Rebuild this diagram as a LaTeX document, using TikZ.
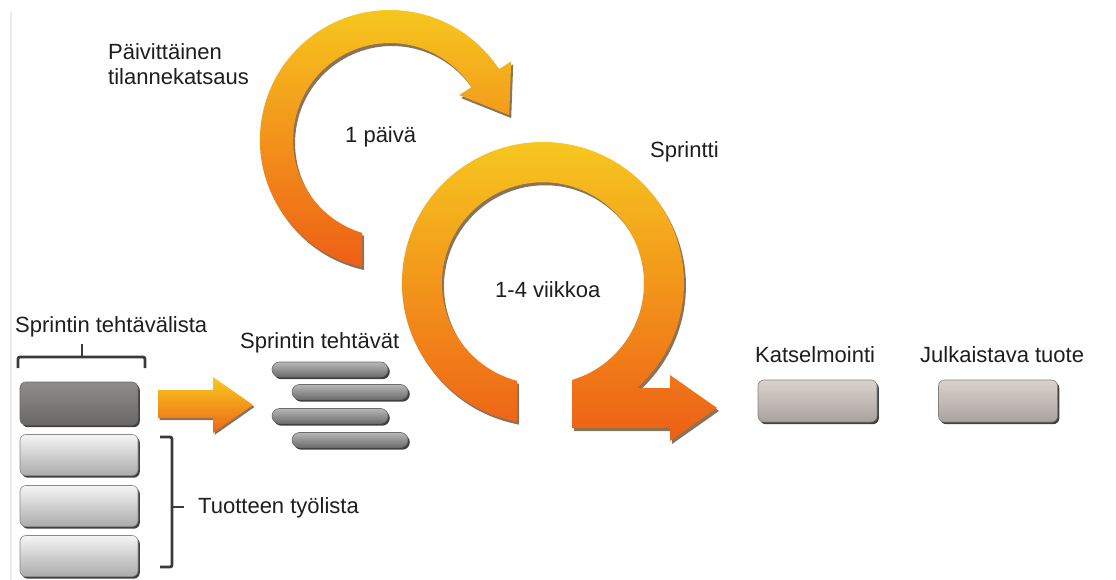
\documentclass[tikz,border=0pt]{standalone}
\usepackage{fontspec}
\setmainfont{Liberation Sans}
\usetikzlibrary{shadows}
\definecolor{txt}{HTML}{1E1E1E}
\definecolor{brk}{HTML}{3A3A3A}
\definecolor{ylw}{HTML}{F7CB1F}
\definecolor{org}{HTML}{F39B1E}
\definecolor{red}{HTML}{EE5F16}
\definecolor{shd}{HTML}{4A2800}
\definecolor{darktop}{HTML}{8F8D8B}
\definecolor{darkbot}{HTML}{6A6866}
\definecolor{lighttop}{HTML}{F5F5F5}
\definecolor{lightbot}{HTML}{ABABAB}
\definecolor{warmtop}{HTML}{DCD2CC}
\definecolor{warmbot}{HTML}{A8A3A0}
\definecolor{pilltop}{HTML}{B8B8B8}
\definecolor{pillbot}{HTML}{6C6C6C}
\def\pathBigLoop{(517,421.6) arc[start angle=100.6, end angle=408.2, radius=141] -- (670,388) -- (670,375) -- (717,408) -- (670,441) -- (670,428) -- (572,428) -- (572,380) arc[start angle=433.3, end angle=104.9, radius=101] -- cycle}
\def\pathSmallLoop{(362,267) arc[start angle=102.4, end angle=327, radius=130] -- (511.2,61.3) -- (509.2,115.1) -- (459.2,95.1) -- (471.4,87.2) arc[start angle=327, end angle=106.8, radius=97] -- cycle}
\def\pathFeedArrow{(158,390) -- (213,390) -- (213,377) -- (253,405) -- (213,433) -- (213,418) -- (158,418) -- cycle}
\begin{document}
\begin{tikzpicture}[x=1pt,y=-1pt,
  lbl/.style={font=\fontsize{22}{26}\selectfont, text=txt, inner sep=0pt, anchor=base west},
  boxbase/.style={rounded corners=6pt, inner sep=0pt, draw=#1, line width=0.6pt,
    drop shadow={shadow xshift=1.8pt, shadow yshift=-2.2pt, fill=black, opacity=0.75}},
  darkbox/.style={boxbase=darkbot, top color=darktop, bottom color=darkbot, minimum width=118pt, minimum height=43pt},
  lightbox/.style={boxbase=lightbot!80!black, top color=lighttop, bottom color=lightbot, minimum width=118pt, minimum height=41pt},
  warmbox/.style={boxbase=warmbot!80!black, top color=warmtop, bottom color=warmbot, minimum width=119pt, minimum height=42pt},
  pill/.style={boxbase=pillbot, rounded corners=7.5pt, top color=pilltop, bottom color=pillbot, minimum width=116pt, minimum height=15pt},
  bracket/.style={draw=brk, line width=2.8pt, rounded corners=2pt},
  orangeshape/.style={top color=ylw, middle color=org, bottom color=red},
  shadowshape/.style={fill=shd, opacity=0.65}
]
\useasboundingbox (0,0) rectangle (1116,580);
\fill[white] (0,0) rectangle (1116,580);
\draw[black!8, line width=1.5pt] (11,12) -- (11,580);

% loops
\fill[shadowshape, xshift=2pt, yshift=-3pt] \pathSmallLoop;
\shade[orangeshape] \pathSmallLoop;
\fill[shadowshape, xshift=2pt, yshift=-3pt] \pathBigLoop;
\shade[orangeshape] \pathBigLoop;
\fill[shadowshape, xshift=1.5pt, yshift=-2pt] \pathFeedArrow;
\shade[top color=ylw, bottom color=red!90!org] \pathFeedArrow;

% labels
\node[lbl] (daily) at (108,60) {Päivittäinen};
\node[lbl] (daily2) at (108,85) {tilannekatsaus};
\node[lbl] (oneday) at (345,143) {1 päivä};
\node[lbl] (sprint) at (650,158) {Sprintti};
\node[lbl] (weeks) at (495,297) {1-4 viikkoa};
\node[lbl] (sbl) at (15,332) {Sprintin tehtävälista};
\node[lbl] (tasks) at (240,348) {Sprintin tehtävät};
\node[lbl] (pbl) at (198,513) {Tuotteen työlista};
\node[lbl] (review) at (755,362) {Katselmointi};
\node[lbl] (release) at (920,362) {Julkaistava tuote};

% backlog boxes
\node[darkbox] (s1) at (79,403.5) {};
\node[lightbox] (p1) at (79,455) {};
\node[lightbox] (p2) at (79,506) {};
\node[lightbox] (p3) at (79,556) {};

% task bars
\node[pill] (t1) at (330,369.5) {};
\node[pill] (t2) at (350,392) {};
\node[pill] (t3) at (330,416) {};
\node[pill] (t4) at (350,440) {};

% result boxes
\node[warmbox] (r1) at (817.5,401) {};
\node[warmbox] (r2) at (998,401) {};

% brackets
\draw[bracket] (18,368) -- (18,357) -- (145,357) -- (145,368);
\draw[bracket] (82,357) -- (82,344);
\draw[bracket] (160,437) -- (172,437) -- (172,567) -- (160,567);
\draw[bracket] (172,507) -- (184,507);
\end{tikzpicture}
\end{document}
